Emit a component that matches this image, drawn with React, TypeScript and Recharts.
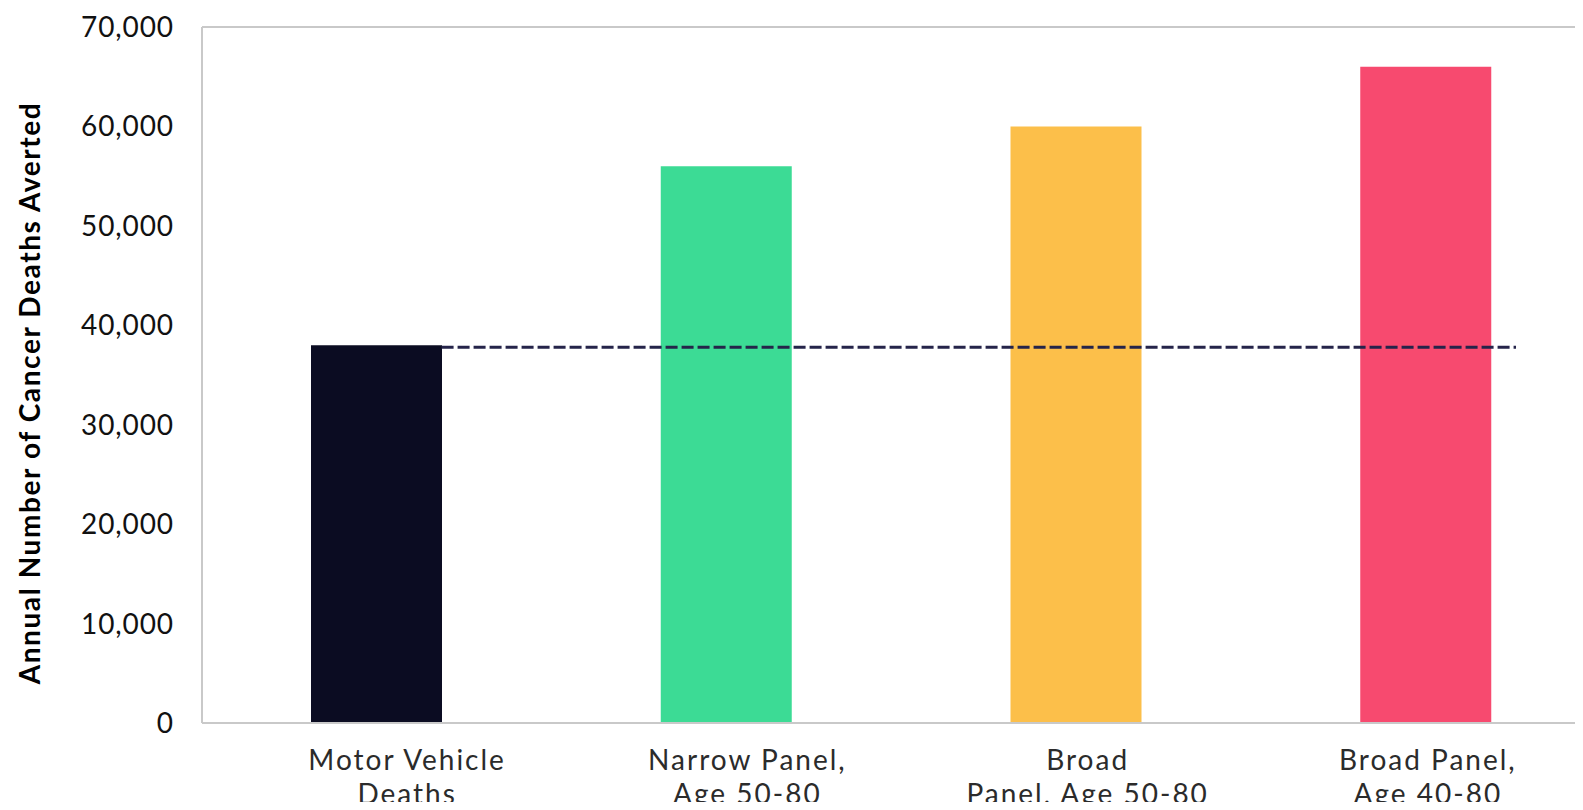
import { ComposedChart, Bar, Line, Cell, XAxis, YAxis, Label, ReferenceLine } from 'recharts'

const categories = [
  'Motor Vehicle Deaths',
  'Narrow Panel, Age 50-80',
  'Broad Panel, Age 50-80',
  'Broad Panel, Age 40-80',
]
// how each category label wraps under the axis
const categoryLines = [
  ['Motor Vehicle', 'Deaths'],
  ['Narrow Panel,', 'Age 50-80'],
  ['Broad', 'Panel, Age 50-80'],
  ['Broad Panel,', 'Age 40-80'],
]
const deathsAverted = [38000, 56000, 60000, 66000]
const barColors = ['#0b0c22', '#3cdb95', '#fcbf4a', '#f74a6f']
const yTicks = [0, 10000, 20000, 30000, 40000, 50000, 60000, 70000]

// dashed benchmark at the motor vehicle level, span given in category units (0..4)
const benchmarkLevel = 37800
const benchmarkSpan = [0.685, 3.757]

const data = categories.map((name, i) => ({ name, value: deathsAverted[i] }))
const benchmarkData = benchmarkSpan.map((x) => ({ x, y: benchmarkLevel }))

const FONT = 'Lato, "Noto Sans", sans-serif'
const AXIS_GRAY = '#c9c9c9'

function CategoryTick({ x, y, payload }: any) {
  const idx = categories.indexOf(payload.value)
  const lines = categoryLines[idx] ?? [payload.value]
  return (
    <g>
      {lines.map((line, i) => (
        <text
          key={i}
          x={x + 1}
          y={y + 47 + i * 34}
          textAnchor="middle"
          fontSize={28}
          letterSpacing={2}
          fontFamily={FONT}
          fill="#2b2b2b"
        >
          {line}
        </text>
      ))}
    </g>
  )
}

function AxisTitle({ viewBox }: any) {
  const cx = viewBox.x + 29
  const cy = viewBox.y + viewBox.height / 2 + 18
  return (
    <text
      x={cx}
      y={cy}
      transform={`rotate(-90, ${cx}, ${cy})`}
      textAnchor="middle"
      dominantBaseline="central"
      fontSize={28}
      fontWeight={700}
      letterSpacing={1.6}
      fontFamily={FONT}
      fill="#000"
    >
      Annual Number of Cancer Deaths Averted
    </text>
  )
}

export default function App() {
  return (
    <div style={{ margin: -8, width: 1583, height: 810, overflow: 'hidden', background: '#fff', fontFamily: FONT }}>
      <ComposedChart
        width={1601}
        height={810}
        data={data}
        margin={{ top: 27, right: 0, left: 0, bottom: 0 }}
        style={{ fontFamily: FONT }}
      >
        {/* bars sit on this band axis */}
        <XAxis xAxisId="cat" dataKey="name" height={0} hide />
        <XAxis
          xAxisId="num"
          dataKey="x"
          type="number"
          domain={[0, 4]}
          allowDataOverflow
          height={0}
          hide
        />
        {/* labels are set slightly right of the bars, on a padded band axis */}
        <XAxis
          xAxisId="labels"
          dataKey="name"
          height={87}
          padding={{ left: 34, right: 4 }}
          axisLine={false}
          tickLine={false}
          tickSize={0}
          tickMargin={0}
          interval={0}
          tick={<CategoryTick />}
        />
        <YAxis
          domain={[0, 70000]}
          ticks={yTicks}
          width={202}
          axisLine={{ stroke: AXIS_GRAY, strokeWidth: 2 }}
          tickLine={false}
          tickSize={0}
          tickMargin={28}
          tickFormatter={(v: number) => v.toLocaleString('en-US')}
          tick={{ fontSize: 28, fill: '#111', fontFamily: FONT, letterSpacing: 0.9 }}
        >
          <Label content={<AxisTitle />} />
        </YAxis>
        <ReferenceLine xAxisId="cat" y={70000} stroke={AXIS_GRAY} strokeWidth={2} />
        <Bar xAxisId="cat" dataKey="value" barSize={131} isAnimationActive={false}>
          {data.map((d, i) => (
            <Cell key={d.name} fill={barColors[i]} />
          ))}
        </Bar>
        <ReferenceLine xAxisId="cat" y={0} stroke={AXIS_GRAY} strokeWidth={2} />
        <Line
          xAxisId="num"
          data={benchmarkData}
          dataKey="y"
          stroke="#25244a"
          strokeWidth={3}
          strokeDasharray="12 4"
          dot={false}
          activeDot={false}
          isAnimationActive={false}
        />
      </ComposedChart>
    </div>
  )
}
